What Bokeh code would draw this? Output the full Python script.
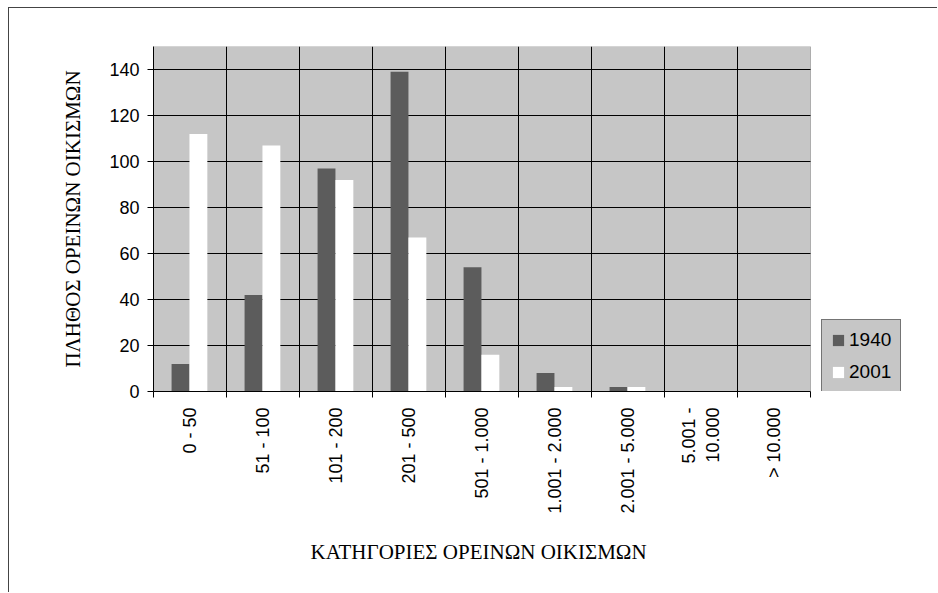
import numpy as np
from bokeh.plotting import figure
from bokeh.models import (FixedTicker, Range1d, Legend, LegendItem,
                          ColumnDataSource, BoxAnnotation, Title)
from bokeh.embed import file_html
from bokeh.resources import INLINE

categories = ["0 - 50", "51 - 100", "101 - 200", "201 - 500", "501 - 1.000",
              "1.001 - 2.000", "2.001 - 5.000", "5.001 -\n10.000", "> 10.000"]
values_1940 = [12, 42, 97, 139, 54, 8, 2, 0, 0]
values_2001 = [112, 107, 92, 67, 16, 2, 2, 0, 0]
y_ticks = [0, 20, 40, 60, 80, 100, 120, 140]
y_max = 150
series_names = ["1940", "2001"]
x_title = "ΚΑΤΗΓΟΡΙΕΣ ΟΡΕΙΝΩΝ ΟΙΚΙΣΜΩΝ"
y_title = "ΠΛΗΘΟΣ ΟΡΕΙΝΩΝ ΟΙΚΙΣΜΩΝ"

n = len(categories)
idx = np.arange(n)
centers = idx + 0.5
boundaries = list(range(n + 1))

# layout (pixels)
fig_w, fig_h = 929, 585
b_left, b_top, b_bottom = 144, 38, 202
plot_w = 657            # width of the grey plot area
b_right = 20
frame_w = fig_w - b_left - b_right
x_end = n * frame_w / plot_w   # extra room on the right for the legend

p = figure(width=fig_w, height=fig_h, output_backend="svg", toolbar_location=None,
           x_range=Range1d(0, x_end), y_range=Range1d(0, y_max))
p.min_border_left = b_left
p.min_border_right = b_right
p.min_border_top = b_top
p.min_border_bottom = b_bottom
p.background_fill_color = "white"
p.border_fill_color = "white"
p.outline_line_color = None
p.styles = {"margin-left": "8px", "margin-top": "7px",
            "border-left": "1px solid #444444", "border-top": "1px solid #444444"}

# grey plot area
p.add_layout(BoxAnnotation(left=0, right=n, bottom=0, top=y_max,
                           fill_color="#c6c6c6", fill_alpha=1,
                           line_color="#333333", line_width=1, level="image"))

src = ColumnDataSource(dict(x1=idx + 0.37, x2=idx + 0.615,
                            v1=values_1940, v2=values_2001))
r1 = p.vbar(x="x1", top="v1", width=0.245, source=src,
            fill_color="#5c5c5c", line_color=None)
r2 = p.vbar(x="x2", top="v2", width=0.245, source=src,
            fill_color="white", line_color=None)

# axes
xax = p.xaxis[0]
xax.bounds = (0, n)
xax.ticker = FixedTicker(ticks=list(centers), minor_ticks=boundaries)
xax.major_label_overrides = {float(c): lab for c, lab in zip(centers, categories)}
xax.major_label_orientation = np.pi / 2
xax.major_tick_out = 0
xax.major_tick_in = 0
xax.minor_tick_out = 6
xax.minor_tick_in = 0
xax.minor_tick_line_color = "black"
xax.axis_line_color = "black"
xax.major_label_text_font = "Liberation Sans"
xax.major_label_text_font_size = "18px"
xax.major_label_text_color = "black"
xax.major_label_standoff = 10

yax = p.yaxis[0]
yax.ticker = FixedTicker(ticks=y_ticks)
yax.major_tick_out = 6
yax.major_tick_in = 0
yax.minor_tick_out = 0
yax.minor_tick_in = 0
yax.major_tick_line_color = "black"
yax.axis_line_color = "black"
yax.major_label_text_font = "Liberation Sans"
yax.major_label_text_font_size = "18px"
yax.major_label_text_color = "black"
yax.major_label_standoff = 8
yax.axis_label = y_title
yax.axis_label_text_font = "Liberation Serif"
yax.axis_label_text_font_style = "normal"
yax.axis_label_text_font_size = "21px"
yax.axis_label_text_color = "black"
yax.axis_label_standoff = 21

# x axis title, centred under the grey plot area
p.add_layout(Title(text=x_title, align="left", offset=157, standoff=46,
                   vertical_align="top",
                   text_font="Liberation Serif", text_font_style="normal",
                   text_font_size="21px", text_color="black"), "below")

# grids
p.xgrid.ticker = FixedTicker(ticks=boundaries[1:-1])
p.xgrid.grid_line_color = "black"
p.xgrid.grid_line_width = 1
p.ygrid.ticker = FixedTicker(ticks=y_ticks[1:])
p.ygrid.cross_bounds = (0, n)
p.ygrid.grid_line_color = "black"
p.ygrid.grid_line_width = 1

legend = Legend(items=[LegendItem(label=series_names[0], renderers=[r1]),
                       LegendItem(label=series_names[1], renderers=[r2])],
                location=(plot_w + 11, -2))
legend.background_fill_color = "#c6c6c6"
legend.background_fill_alpha = 1
legend.border_line_color = "#222222"
legend.border_line_width = 1
legend.label_text_font = "Liberation Sans"
legend.label_text_font_size = "19px"
legend.label_text_color = "black"
legend.glyph_width = 14
legend.glyph_height = 14
legend.label_height = 22
legend.label_standoff = 4
legend.padding = 9
legend.spacing = 10
legend.margin = 0
p.add_layout(legend, "center")

open("out.html", "w").write(file_html(p, INLINE))
